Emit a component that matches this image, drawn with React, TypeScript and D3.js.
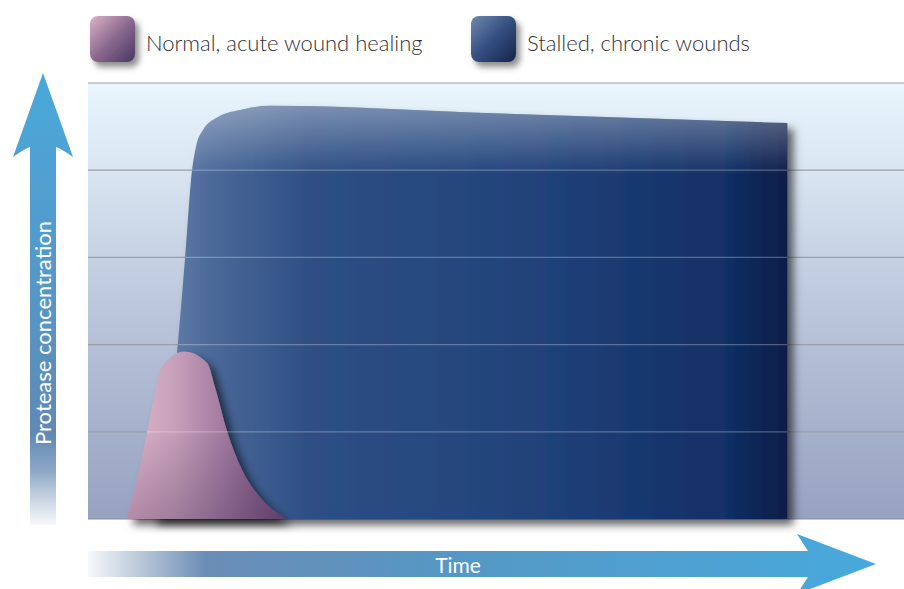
import React from "react";
import * as d3 from "d3";

// legend
const legendLabels = ["Normal, acute wound healing", "Stalled, chronic wounds"];

// axis titles
const yTitle = "Protease concentration";
const xTitle = "Time";

// gridline levels (concentration units)
const gridLevels = [0, 1, 2, 3, 4, 5];

// stalled, chronic wounds
const chronicTime = [7.6, 9.9, 11.0, 11.9, 12.75, 13.24, 14.09, 15.93, 18.63, 22.3, 50.5, 85.7];
const chronicConc = [0, 1.0, 2.0, 3.0, 4.0, 4.27, 4.46, 4.61, 4.69, 4.74, 4.65, 4.54];

// normal, acute wound healing
const acuteTime = [4.7, 6.0, 7.3, 8.2, 9.0, 11.8, 14.6, 15.6, 17.0, 18.9, 21.1, 24.4];
const acuteConc = [0, 0.45, 1.02, 1.45, 1.74, 1.92, 1.79, 1.5, 1.02, 0.56, 0.25, 0];

const W = 904;
const H = 589;
const plot = { left: 88, right: 904, top: 83, bottom: 519 };

const App = () => {
  const x = d3.scaleLinear().domain([0, 100]).range([plot.left, plot.right]);
  const y = d3.scaleLinear().domain([0, 5]).range([plot.bottom, plot.top]);

  const area = d3
    .area<[number, number]>()
    .x((d) => x(d[0]))
    .y0(y(0))
    .y1((d) => y(d[1]))
    .curve(d3.curveMonotoneX);

  const chronic = chronicTime.map((t, i) => [t, chronicConc[i]] as [number, number]);
  const acute = acuteTime.map((t, i) => [t, acuteConc[i]] as [number, number]);
  const chronicPath = area(chronic) || "";
  const acutePath = area(acute) || "";

  const font = "Lato, 'Open Sans', sans-serif";

  // arrows (decoration)
  const yArrow =
    "M43,73 L73,157 Q60,148 56,147 L56,525 L30,525 L30,147 Q26,148 13,157 Z";
  const xArrow =
    "M876,564 L797,594 Q806,580 808,577 L88,577 L88,551 L808,551 Q806,548 797,534 Z";

  return (
    <svg
      width={W}
      height={H}
      style={{ position: "absolute", left: 0, top: 0, background: "#fff" }}
    >
      <defs>
        <linearGradient id="bg" x1="0" y1={plot.top} x2="0" y2={plot.bottom} gradientUnits="userSpaceOnUse">
          <stop offset="0" stopColor="#e9f6fd" />
          <stop offset="0.2" stopColor="#d9e5f1" />
          <stop offset="0.5" stopColor="#bdc8dd" />
          <stop offset="1" stopColor="#96a2c0" />
        </linearGradient>
        <linearGradient id="blueFill" x1="150" y1="0" x2="787" y2="0" gradientUnits="userSpaceOnUse">
          <stop offset="0" stopColor="#6b85ae" />
          <stop offset="0.1" stopColor="#4a6898" />
          <stop offset="0.25" stopColor="#2e4f84" />
          <stop offset="0.6" stopColor="#21427a" />
          <stop offset="0.9" stopColor="#123066" />
          <stop offset="1" stopColor="#0b1d48" />
        </linearGradient>
        <linearGradient id="blueTop" x1="0" y1="104" x2="0" y2="175" gradientUnits="userSpaceOnUse">
          <stop offset="0" stopColor="#ffffff" stopOpacity="0.38" />
          <stop offset="1" stopColor="#ffffff" stopOpacity="0" />
        </linearGradient>
        <linearGradient id="pinkFill" x1="127" y1="0" x2="287" y2="0" gradientUnits="userSpaceOnUse">
          <stop offset="0" stopColor="#e0b4ca" />
          <stop offset="0.3" stopColor="#c6a0ba" />
          <stop offset="0.6" stopColor="#a27ba0" />
          <stop offset="1" stopColor="#6e4a78" />
        </linearGradient>
        <linearGradient id="pinkBottom" x1="0" y1="352" x2="0" y2="519" gradientUnits="userSpaceOnUse">
          <stop offset="0.45" stopColor="#2a1440" stopOpacity="0" />
          <stop offset="1" stopColor="#2a1440" stopOpacity="0.25" />
        </linearGradient>
        <linearGradient id="yArrowFill" x1="0" y1="73" x2="0" y2="525" gradientUnits="userSpaceOnUse">
          <stop offset="0" stopColor="#49a9db" />
          <stop offset="0.55" stopColor="#5894c2" />
          <stop offset="0.8" stopColor="#6189b2" />
          <stop offset="0.88" stopColor="#8ea7c6" />
          <stop offset="0.95" stopColor="#cfd9e7" />
          <stop offset="1" stopColor="#f7f9fb" />
        </linearGradient>
        <linearGradient id="xArrowFill" x1="88" y1="0" x2="876" y2="0" gradientUnits="userSpaceOnUse">
          <stop offset="0" stopColor="#f6f8fa" />
          <stop offset="0.07" stopColor="#b6c5d8" />
          <stop offset="0.15" stopColor="#6a8db5" />
          <stop offset="0.47" stopColor="#5598c5" />
          <stop offset="1" stopColor="#48a9dc" />
        </linearGradient>
        <linearGradient id="swPink" x1="0" y1="0" x2="1" y2="1">
          <stop offset="0" stopColor="#dcb3c7" />
          <stop offset="0.5" stopColor="#8c6a90" />
          <stop offset="1" stopColor="#47365f" />
        </linearGradient>
        <linearGradient id="swBlue" x1="0" y1="0" x2="1" y2="1">
          <stop offset="0" stopColor="#7088ae" />
          <stop offset="0.5" stopColor="#344f80" />
          <stop offset="1" stopColor="#142449" />
        </linearGradient>
        <filter id="shadow" x="-10%" y="-10%" width="130%" height="130%">
          <feDropShadow dx="6" dy="6" stdDeviation="4" floodColor="#000" floodOpacity="0.6" />
        </filter>
        <filter id="swShadow" x="-30%" y="-30%" width="170%" height="170%">
          <feDropShadow dx="4" dy="5" stdDeviation="3" floodColor="#000" floodOpacity="0.45" />
        </filter>
        <clipPath id="shapesClip">
          <path d={chronicPath} />
          <path d={acutePath} />
        </clipPath>
      </defs>

      {/* legend */}
      <g fontFamily={font} fontWeight={300} fontSize={22} fill="#333">
        <rect x={90} y={16} width={45} height={46} rx={8} fill="url(#swPink)" filter="url(#swShadow)" />
        <text x={146} y={51}>{legendLabels[0]}</text>
        <rect x={471} y={16} width={45} height={46} rx={8} fill="url(#swBlue)" filter="url(#swShadow)" />
        <text x={527} y={51}>{legendLabels[1]}</text>
      </g>

      {/* plot background */}
      <rect
        x={plot.left}
        y={plot.top}
        width={plot.right - plot.left}
        height={plot.bottom - plot.top}
        fill="url(#bg)"
      />
      {gridLevels.map((g) => (
        <line
          key={"g" + g}
          x1={plot.left}
          x2={plot.right}
          y1={y(g)}
          y2={y(g)}
          stroke={g === 0 ? "#8790b0" : "#9b9ea4"}
          strokeWidth={1.2}
        />
      ))}

      {/* series */}
      <g filter="url(#shadow)">
        <path d={chronicPath} fill="url(#blueFill)" />
      </g>
      <path d={chronicPath} fill="url(#blueTop)" />
      <g filter="url(#shadow)">
        <path d={acutePath} fill="url(#pinkFill)" />
      </g>
      <path d={acutePath} fill="url(#pinkBottom)" />

      {/* gridlines seen through the shapes */}
      <g clipPath="url(#shapesClip)">
        {gridLevels.slice(1).map((g) => (
          <line
            key={"o" + g}
            x1={plot.left}
            x2={plot.right}
            y1={y(g)}
            y2={y(g)}
            stroke="#ffffff"
            strokeOpacity={0.28}
            strokeWidth={1.2}
          />
        ))}
      </g>

      {/* axes arrows */}
      <path d={yArrow} fill="url(#yArrowFill)" />
      <text
        transform="translate(42,333) rotate(-90)"
        textAnchor="middle"
        dominantBaseline="central"
        fontFamily={font}
        fontSize={22}
        fill="#fff"
      >
        {yTitle}
      </text>
      <path d={xArrow} fill="url(#xArrowFill)" />
      <text
        x={458}
        y={564}
        textAnchor="middle"
        dominantBaseline="central"
        fontFamily={font}
        fontSize={21}
        fill="#fff"
      >
        {xTitle}
      </text>
    </svg>
  );
};

export default App;
